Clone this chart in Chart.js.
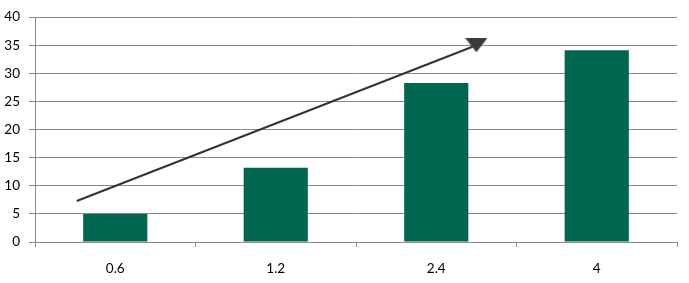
<!DOCTYPE html>
<html>
<head>
<meta charset="utf-8">
<script src="https://cdn.jsdelivr.net/npm/chart.js@4"></script>
<style>
  html, body { margin: 0; padding: 0; background: #fff; }
  #wrap { width: 689px; height: 283px; }
</style>
</head>
<body>
<div id="wrap"><canvas id="chart"></canvas></div>
<script>
// values
var categories = ['0.6', '1.2', '2.4', '4'];
var values = [5, 13.2, 28.3, 34.1];
var yMin = 0, yMax = 40, yStep = 5;
// trend arrow, in category-index / value units
var arrowX = [-0.24, 2.25];
var arrowY = [7.3, 35];

var barColor = '#00664F';
var gridColor = '#8a8a8a';
var labelFont = { family: 'Lato', size: 13.5 };

// flat downward triangle used as the arrow head
var head = document.createElement('canvas');
head.width = 22;
head.height = 14;
var hc = head.getContext('2d');
hc.fillStyle = '#3a3a3a';
hc.beginPath();
hc.moveTo(0, 0);
hc.lineTo(22, 0);
hc.lineTo(11, 14);
hc.closePath();
hc.fill();

var arrowPts = [];
for (var i = 0; i < arrowX.length; i++) arrowPts.push({x: arrowX[i], y: arrowY[i]});

new Chart(document.getElementById('chart'), {
  data: {
    labels: categories,
    datasets: [
      {
        type: 'line',
        data: arrowPts,
        xAxisID: 'x2',
        borderColor: '#333333',
        borderWidth: 2,
        pointRadius: [0, 10],
        pointStyle: head,
        order: 0
      },
      {
        type: 'bar',
        data: values,
        backgroundColor: barColor,
        borderWidth: 0,
        grouped: false,
        categoryPercentage: 1,
        barPercentage: 0.4,
        order: 1
      }
    ]
  },
  options: {
    responsive: true,
    maintainAspectRatio: false,
    animation: false,
    layout: { padding: { top: 17, right: 4, left: 0, bottom: 0 } },
    plugins: { legend: { display: false }, tooltip: { enabled: false } },
    scales: {
      x: {
        type: 'category',
        grid: {
          offset: true,
          drawOnChartArea: false,
          drawTicks: true,
          tickLength: 5,
          color: gridColor
        },
        border: { color: gridColor },
        ticks: { color: '#000', font: labelFont, padding: 14 },
        afterFit: function (s) { s.height = 41; }
      },
      x2: {
        type: 'linear',
        display: false,
        min: -0.5,
        max: 3.5
      },
      y: {
        min: yMin,
        max: yMax,
        grid: { color: gridColor, tickLength: 6 },
        border: { color: gridColor },
        ticks: { stepSize: yStep, color: '#000', font: labelFont, padding: 9 },
        afterFit: function (s) { s.width = 35; }
      }
    }
  }
});
</script>
</body>
</html>
